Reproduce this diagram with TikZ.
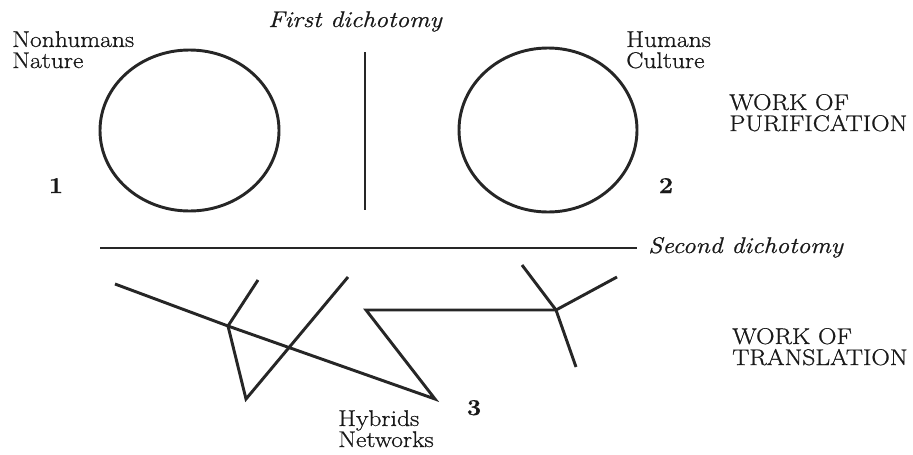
\documentclass[tikz,border=0pt]{standalone}
\usepackage{fontspec}
\setmainfont{Latin Modern Roman}[FakeStretch=1.13, FakeBold=0.8]

\tikzset{
  lbl/.style={font=\fontsize{17}{15.8}\selectfont, align=left, inner sep=0pt, text=black!90},
  lblit/.style={lbl, font=\fontsize{17}{15.8}\selectfont\itshape},
  numlbl/.style={lbl, font=\fontsize{17}{17}\selectfont\bfseries},
  stroke/.style={line width=2.2pt, draw=black!85}
}

\begin{document}
\begin{tikzpicture}[x=0.75pt, y=-0.75pt]
  \useasboundingbox (0,0) rectangle (913,454);
  % the two poles
  \coordinate (nature) at (189.5,130.5);
  \coordinate (culture) at (548,130);
  \draw[stroke] (nature) ellipse [x radius=89.5, y radius=80.5];
  \draw[stroke] (culture) ellipse [x radius=89, y radius=82];
  \node[lbl, anchor=base west] (nonhum) at (12,68) {Nonhumans\\Nature};
  \node[lbl, anchor=base west] (hum) at (626,68) {Humans\\Culture};
  \node[numlbl, anchor=base] (one) at (56,193) {1};
  \node[numlbl, anchor=base] (two) at (666,193) {2};
  \node[lbl, anchor=base west] (purif) at (729,131) {WORK OF\\PURIFICATION};
  % dichotomies
  \coordinate (first top) at (365,52);
  \coordinate (first bot) at (365,210);
  \draw[stroke] (first top) -- (first bot);
  \node[lblit, anchor=base] (first) at (355,27) {First dichotomy};
  \coordinate (second l) at (100,248);
  \coordinate (second r) at (637,248);
  \draw[stroke] (second l) -- (second r);
  \node[lblit, anchor=base west] (second) at (648,253) {Second dichotomy};
  % hybrid network
  \coordinate (a1) at (115,284);
  \coordinate (hubL) at (228,326);
  \coordinate (a2) at (258,280);
  \coordinate (a3) at (246,399);
  \coordinate (a4) at (348,277);
  \coordinate (a5) at (435,399);
  \coordinate (a6) at (366,310);
  \coordinate (hubR) at (556,310);
  \coordinate (b1) at (522,265);
  \coordinate (b2) at (617,277);
  \coordinate (b3) at (576,367);
  \draw[stroke] (a1) -- (hubL) -- (a5) -- (a6) -- (hubR);
  \draw[stroke] (hubL) -- (a2);
  \draw[stroke] (hubL) -- (a3) -- (a4);
  \draw[stroke] (hubR) -- (b1);
  \draw[stroke] (hubR) -- (b2);
  \draw[stroke] (hubR) -- (b3);
  \node[lbl, anchor=base west] (hybrids) at (338,447) {Hybrids\\Networks};
  \node[numlbl, anchor=base] (three) at (474,415) {3};
  \node[lbl, anchor=base west] (transl) at (732,365) {WORK OF\\TRANSLATION};
\end{tikzpicture}
\end{document}
